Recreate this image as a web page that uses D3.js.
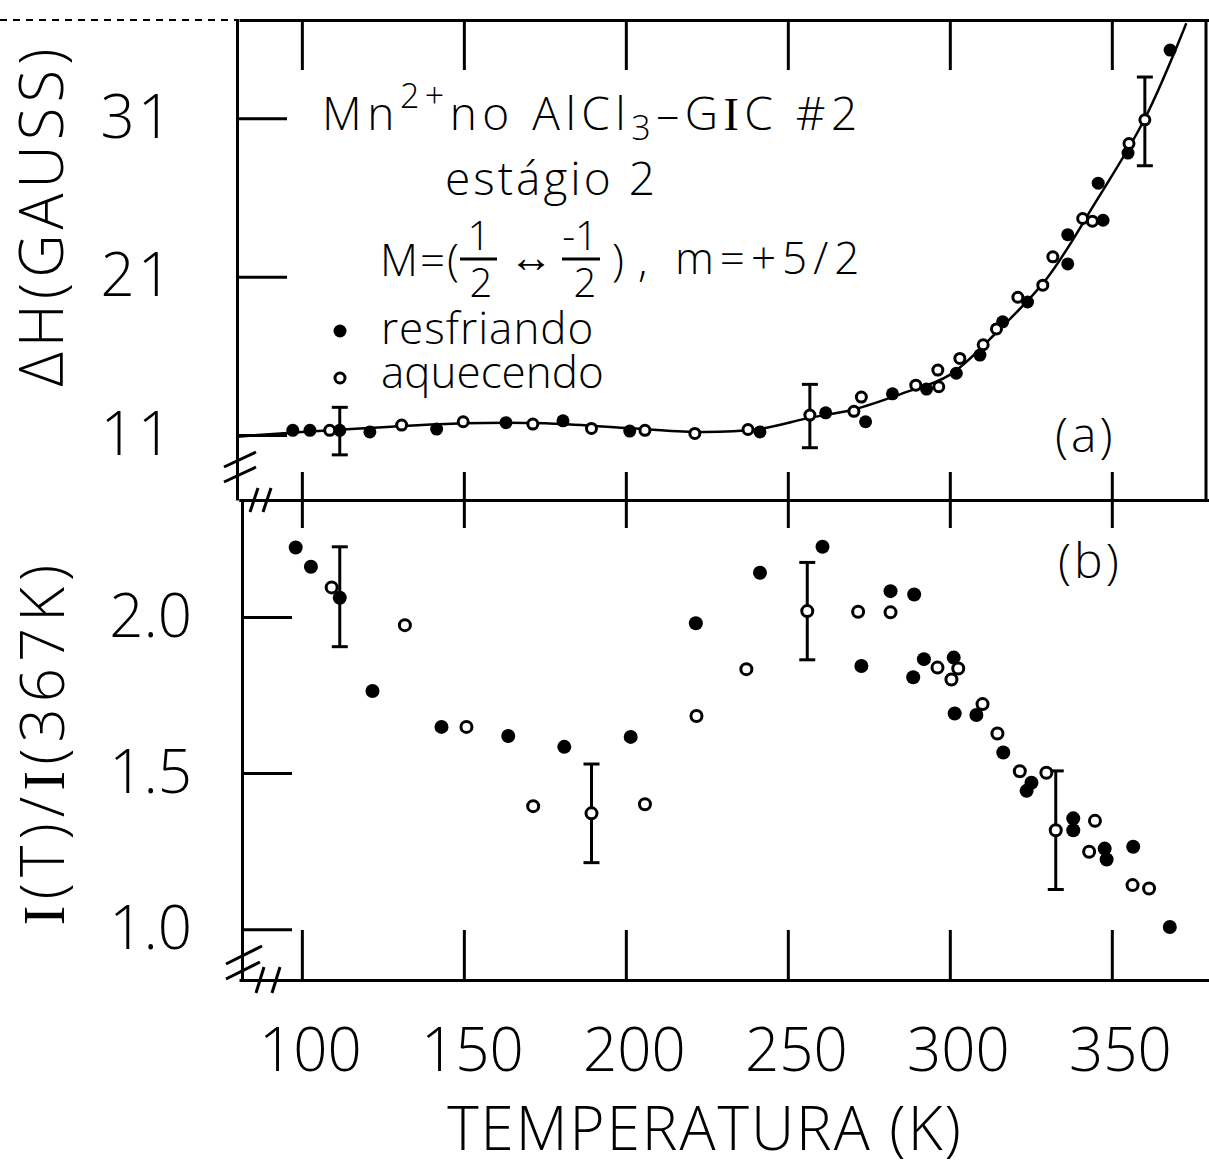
<!DOCTYPE html>
<html>
<head>
<meta charset="utf-8">
<script src="https://cdn.jsdelivr.net/npm/d3@7"></script>
<style>
  body { margin: 0; background: #fff; }
  svg { display: block; font-family: "Open Sans", sans-serif; font-weight: 300; }
  .axis path, .axis line { stroke: #000; stroke-width: 3; }
  .axis text { font-size: 60px; fill: #000; font-family: "Open Sans", sans-serif; }
  .lbl { fill: #000; }
</style>
</head>
<body>
<svg id="chart" width="1209" height="1167"></svg>
<script>
// ---- panel (a): linewidth, ΔH (gauss) ----
const aCoolT = [97.2, 102.5, 111.7, 121, 141.6, 163, 180.6, 201.2, 241.4, 261.7, 274, 282.3, 292.8, 302, 309.3, 316.3, 324, 336.4, 336.4, 345.8, 347.3, 355, 368]
const aCoolV = [11.3, 11.3, 11.3, 11.2, 11.38, 11.78, 11.9, 11.25, 11.2, 12.4, 11.84, 13.6, 13.9, 14.9, 16.05, 18.15, 19.4, 21.8, 23.65, 26.9, 24.56, 28.8, 35.3]
const aHeatT = [108.6, 130.8, 149.8, 171.3, 189.4, 205.9, 221.3, 237.7, 256.8, 270.4, 272.7, 289.5, 296.6, 296.3, 303.1, 310.3, 314.4, 321, 328.7, 331.8, 341, 344, 355.3, 360.2]
const aHeatV = [11.3, 11.63, 11.84, 11.69, 11.42, 11.3, 11.1, 11.35, 12.26, 12.5, 13.4, 14.15, 14.05, 15.1, 15.84, 16.7, 17.7, 19.7, 20.46, 22.25, 24.67, 24.5, 29.4, 30.9]
const aFitT = [80, 100, 125, 150, 175, 200, 222, 240, 257, 270, 285, 300, 315, 330, 345, 360, 373]
const aFitV = [10.9, 11.2, 11.5, 11.75, 11.75, 11.45, 11.2, 11.35, 12.1, 12.6, 13.6, 14.8, 17.6, 20.9, 25.7, 30.9, 37.0]
const aErrT = [111.7, 256.8, 360.2]
const aErrV = [11.25, 12.2, 30.8]
const aErrD = [1.5, 2.0, 2.8]

// ---- panel (b): I(T)/I(367K) ----
const bCoolT = [98.1, 102.8, 111.7, 121.8, 143.1, 163.7, 181, 201.5, 221.6, 241.4, 260.7, 272.7, 281.7, 289, 288.7, 292, 301.2, 301.5, 308.2, 316.5, 323.7, 325.2, 338.1, 338.1, 347.8, 348.4, 356.6, 367.9]
const bCoolV = [2.223, 2.161, 2.062, 1.763, 1.648, 1.619, 1.584, 1.616, 1.98, 2.142, 2.225, 1.843, 2.083, 2.072, 1.807, 1.865, 1.87, 1.691, 1.686, 1.566, 1.443, 1.469, 1.355, 1.317, 1.258, 1.223, 1.264, 1.007]
const bHeatT = [109.2, 131.8, 150.8, 171.4, 189.4, 205.9, 221.8, 237.2, 256, 271.7, 281.7, 296.2, 302.6, 300.5, 310.1, 314.7, 321.6, 329.8, 332.7, 344.8, 343, 356.4, 361.5]
const bHeatV = [2.095, 1.974, 1.648, 1.394, 1.371, 1.40, 1.683, 1.833, 2.019, 2.017, 2.015, 1.838, 1.835, 1.80, 1.721, 1.627, 1.506, 1.501, 1.317, 1.347, 1.248, 1.141, 1.13]
const bErrT = [111.7, 189.4, 256, 332.7]
const bErrV = [2.065, 1.371, 2.019, 1.317]
const bErrD = [0.16, 0.158, 0.156, 0.19]

const xTicks = [100, 150, 200, 250, 300, 350]
const aTicks = [11, 21, 31]
const bTicks = [1.0, 1.5, 2.0]

const svg = d3.select('#chart')
const LEFT = 239, RIGHT = 1209, TOP = 20, MID = 500, BOTTOM = 980
const SERIF = 'Liberation Serif'

const x = d3.scaleLinear().domain([80.6, 380]).range([LEFT, RIGHT])
const yA = d3.scaleLinear().domain([6.9, 37.2]).range([MID, TOP])
const yB = d3.scaleLinear().domain([0.837, 2.375]).range([BOTTOM, MID])

const zip = (a, b) => a.map((d, i) => [d, b[i]])

// scan artefact: dotted continuation of the top border
svg.append('line')
    .attr('x1', 0).attr('x2', LEFT).attr('y1', TOP).attr('y2', TOP)
    .attr('stroke', '#000').attr('stroke-width', 2).attr('stroke-dasharray', '7 6')

// ---- axes ----
svg.append('g').attr('class', 'axis')
    .attr('transform', `translate(0,${TOP})`)
    .call(d3.axisBottom(x).tickValues(xTicks).tickSize(50).tickSizeOuter(0).tickFormat(''))

svg.append('line')
    .attr('x1', RIGHT - 3).attr('x2', RIGHT - 3).attr('y1', TOP).attr('y2', MID)
    .attr('stroke', '#000').attr('stroke-width', 3)

svg.append('g').attr('class', 'axis')
    .attr('transform', `translate(0,${MID})`)
    .call(d3.axisBottom(x).tickValues(xTicks).tickSize(28).tickSizeOuter(0).tickFormat(''))
svg.append('g').attr('class', 'axis')
    .attr('transform', `translate(0,${MID})`)
    .call(d3.axisTop(x).tickValues(xTicks).tickSize(28).tickSizeOuter(0).tickFormat(''))

svg.append('g').attr('class', 'axis')
    .attr('transform', `translate(${LEFT - 2},0)`)
    .call(d3.axisLeft(yA).tickValues(aTicks).tickSize(-50).tickSizeOuter(0).tickPadding(62).tickFormat(d3.format('d')))
    .selectAll('text').attr('letter-spacing', 3)

svg.append('g').attr('class', 'axis')
    .attr('transform', `translate(${LEFT + 3},0)`)
    .call(d3.axisLeft(yB).tickValues(bTicks).tickSize(-50).tickSizeOuter(0).tickPadding(50).tickFormat(d3.format('.1f')))

const xAxisB = svg.append('g').attr('class', 'axis')
    .attr('transform', `translate(0,${BOTTOM})`)
    .call(d3.axisBottom(x).tickValues(xTicks).tickSize(-50).tickSizeOuter(0).tickPadding(48))
xAxisB.selectAll('text').attr('dx', 8)

// axis break marks
const breaks = [
    [[224, 467], [256, 452]], [[224, 482], [256, 467]],
    [[250, 512], [258, 488]], [[263, 512], [271, 488]],
    [[226, 964], [262, 946]], [[226, 979], [260, 962]],
    [[256, 993], [264, 967]], [[272, 993], [280, 967]]
]
svg.append('g').selectAll('line').data(breaks).enter().append('line')
    .attr('x1', (d) => d[0][0]).attr('y1', (d) => d[0][1])
    .attr('x2', (d) => d[1][0]).attr('y2', (d) => d[1][1])
    .attr('stroke', '#000').attr('stroke-width', 3)

// ---- axis titles ----
svg.append('text').attr('class', 'lbl')
    .attr('transform', 'translate(63,215) rotate(-90)')
    .attr('text-anchor', 'middle').attr('font-size', 60).attr('letter-spacing', 5)
    .text('ΔH(GAUSS)')

const yLabB = svg.append('text').attr('class', 'lbl')
    .attr('transform', 'translate(64,742) rotate(-90)')
    .attr('text-anchor', 'middle').attr('font-size', 60).attr('letter-spacing', 6)
yLabB.append('tspan').attr('font-family', SERIF).text('I')
yLabB.append('tspan').text('(T)/')
yLabB.append('tspan').attr('font-family', SERIF).text('I')
yLabB.append('tspan').text('(367K)')

svg.append('text').attr('class', 'lbl')
    .attr('x', 705).attr('y', 1150)
    .attr('text-anchor', 'middle').attr('font-size', 60).attr('letter-spacing', 2)
    .text('TEMPERATURA (K)')

// ---- annotation text ----
const title = svg.append('text').attr('class', 'lbl')
    .attr('x', 322).attr('y', 130).attr('font-size', 46).attr('letter-spacing', 5.5)
title.append('tspan').text('Mn')
title.append('tspan').attr('dy', -22).attr('font-size', 34).text('2+')
title.append('tspan').attr('dy', 22).text('no AlCl')
title.append('tspan').attr('dy', 10).attr('font-size', 34).text('3')
title.append('tspan').attr('dy', -10).text('–G')
title.append('tspan').attr('font-family', SERIF).text('I')
title.append('tspan').text('C #2')

svg.append('text').attr('class', 'lbl')
    .attr('x', 445).attr('y', 195).attr('font-size', 46).attr('letter-spacing', 3)
    .text('estágio 2')

// M=(1/2 <-> -1/2) , m=+5/2 as one text with positioned pieces
const mParts = [
    {t: 'M=(', x: 380, y: 276, size: 44, ls: 2, anchor: 'start'},
    {t: '1', x: 479, y: 250, size: 40, ls: 0, anchor: 'middle'},
    {t: '2', x: 481, y: 297, size: 40, ls: 0, anchor: 'middle'},
    {t: '↔', x: 531, y: 272, size: 44, ls: 0, anchor: 'middle'},
    {t: '-1', x: 580, y: 250, size: 40, ls: 0, anchor: 'middle'},
    {t: '2', x: 585, y: 297, size: 40, ls: 0, anchor: 'middle'},
    {t: ')', x: 612, y: 276, size: 44, ls: 0, anchor: 'start'},
    {t: ',', x: 638, y: 276, size: 44, ls: 0, anchor: 'start'},
    {t: 'm=+5/2', x: 675, y: 274, size: 44, ls: 6, anchor: 'start'}
]
const mText = svg.append('text').attr('class', 'lbl')
mParts.forEach((p) => {
    mText.append('tspan')
        .attr('x', p.x).attr('y', p.y).attr('font-size', p.size)
        .attr('letter-spacing', p.ls).attr('text-anchor', p.anchor)
        .text(p.t)
})
svg.selectAll('.fracbar').data([[460, 497], [562, 600]]).enter().append('line')
    .attr('x1', (d) => d[0]).attr('x2', (d) => d[1]).attr('y1', 259).attr('y2', 259)
    .attr('stroke', '#000').attr('stroke-width', 3)

// legend
svg.append('circle').attr('cx', 340).attr('cy', 331).attr('r', 6.5).attr('fill', '#000')
svg.append('circle').attr('cx', 340).attr('cy', 378).attr('r', 5).attr('fill', '#fff')
    .attr('stroke', '#000').attr('stroke-width', 3)
svg.append('text').attr('class', 'lbl').attr('x', 381).attr('y', 344).attr('font-size', 44)
    .attr('letter-spacing', 1).text('resfriando')
svg.append('text').attr('class', 'lbl').attr('x', 381).attr('y', 388).attr('font-size', 44)
    .text('aquecendo')

svg.append('text').attr('class', 'lbl').attr('x', 1055).attr('y', 452).attr('font-size', 48)
    .attr('letter-spacing', 3).text('(a)')
svg.append('text').attr('class', 'lbl').attr('x', 1058).attr('y', 578).attr('font-size', 48)
    .attr('letter-spacing', 3).text('(b)')

// ---- marks ----
function errorBars(g, ts, vs, ds, y) {
    const eb = g.append('g').selectAll('g').data(ts.map((t, i) => [t, vs[i], ds[i]])).enter().append('g')
    eb.append('line')
        .attr('x1', (d) => x(d[0])).attr('x2', (d) => x(d[0]))
        .attr('y1', (d) => y(d[1] - d[2])).attr('y2', (d) => y(d[1] + d[2]))
        .attr('stroke', '#000').attr('stroke-width', 3)
    eb.selectAll('.cap').data((d) => [[d[0], d[1] - d[2]], [d[0], d[1] + d[2]]]).enter().append('line')
        .attr('x1', (d) => x(d[0]) - 8).attr('x2', (d) => x(d[0]) + 8)
        .attr('y1', (d) => y(d[1])).attr('y2', (d) => y(d[1]))
        .attr('stroke', '#000').attr('stroke-width', 3)
}

function dots(g, ts, vs, y, filled, r) {
    g.append('g').selectAll('circle').data(zip(ts, vs)).enter().append('circle')
        .attr('cx', (d) => x(d[0])).attr('cy', (d) => y(d[1]))
        .attr('r', filled ? r : r - 1.5)
        .attr('fill', filled ? '#000' : '#fff')
        .attr('stroke', '#000').attr('stroke-width', filled ? 0 : 3)
}

const gA = svg.append('g')
const fitLine = d3.line().x((d) => x(d[0])).y((d) => yA(d[1])).curve(d3.curveCatmullRom)
gA.append('path').datum(zip(aFitT, aFitV))
    .attr('d', fitLine).attr('fill', 'none').attr('stroke', '#000').attr('stroke-width', 2.5)
errorBars(gA, aErrT, aErrV, aErrD, yA)
dots(gA, aCoolT, aCoolV, yA, true, 6.5)
dots(gA, aHeatT, aHeatV, yA, false, 6.5)

const gB = svg.append('g')
errorBars(gB, bErrT, bErrV, bErrD, yB)
dots(gB, bCoolT, bCoolV, yB, true, 7)
dots(gB, bHeatT, bHeatV, yB, false, 7)
</script>
</body>
</html>
